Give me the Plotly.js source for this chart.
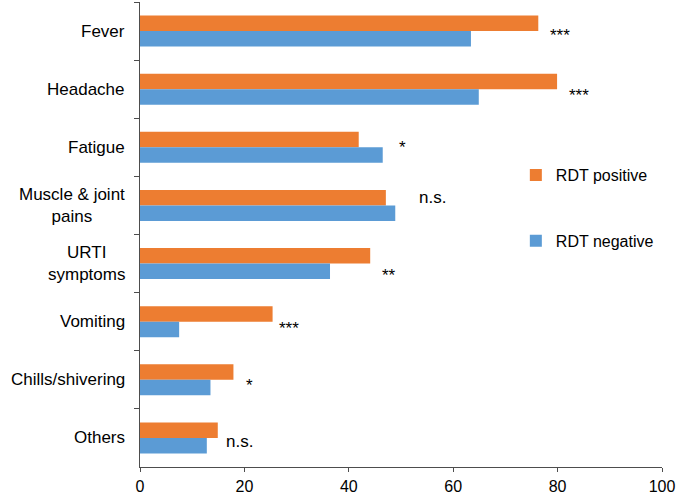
<!DOCTYPE html>
<html>
<head>
<meta charset="utf-8">
<script src="https://cdn.plot.ly/plotly-3.0.1.min.js"></script>
<style>html,body{margin:0;padding:0;background:#fff}#chart{width:685px;height:496px}</style>
</head>
<body>
<div id="chart"></div>
<script>
// Data
const categories = ["Fever", "Headache", "Fatigue", "Muscle & joint<br>pains", "URTI<br>symptoms", "Vomiting", "Chills/shivering", "Others"];
const rdtPositive = [76.3, 79.9, 41.9, 47.1, 44.1, 25.4, 17.9, 14.9];
const rdtNegative = [63.4, 64.9, 46.5, 48.9, 36.4, 7.5, 13.5, 12.8];
const significance = ["***", "***", "*", "n.s.", "**", "***", "*", "n.s."];
const xTicks = [0, 20, 40, 60, 80, 100];

// Placement of significance marks (x in data units, vertical shift in px)
const sigX = [78.2, 81.8, 49.2, 53.0, 46.0, 26.2, 20.0, 16.0];
const sigShift = [-4, -6, 0, 8, -12, -7, -6, -3.5];

const FONT = "Liberation Sans, Arial, sans-serif";

const traces = [
  {type: "bar", orientation: "h", name: "RDT positive", y: categories, x: rdtPositive,
   marker: {color: "#ED7D31"}, legendgroup: "pos"},
  {type: "bar", orientation: "h", name: "RDT negative", y: categories, x: rdtNegative,
   marker: {color: "#5B9BD5"}, legendgroup: "neg"}
];

const annotations = [];
categories.forEach((c, i) => {
  annotations.push({xref: "paper", yref: "y", x: 0, y: c, xshift: -13, xanchor: "right", yanchor: "middle",
    align: "center", text: c, showarrow: false, font: {family: FONT, size: 17, color: "#000"}});
  annotations.push({xref: "x", yref: "y", x: sigX[i], y: c, yshift: sigShift[i], xanchor: "left", yanchor: "middle",
    text: significance[i], showarrow: false, font: {family: FONT, size: 17, color: "#000"}});
});

const layout = {
  width: 685, height: 496,
  margin: {l: 140, r: 23, t: 2, b: 29, pad: 0},
  paper_bgcolor: "#fff", plot_bgcolor: "#fff",
  font: {family: FONT, size: 17, color: "#000"},
  barmode: "group", bargap: 0.465, bargroupgap: 0,
  xaxis: {range: [0, 100], tickvals: xTicks, ticktext: xTicks.map(String), showgrid: false, zeroline: false,
    showline: true, linecolor: "#4d4d4d", linewidth: 1.3, ticks: "outside", ticklen: 4, tickcolor: "#4d4d4d",
    tickfont: {family: FONT, size: 16, color: "#000"}, fixedrange: true},
  yaxis: {autorange: "reversed", type: "category", showgrid: false, zeroline: false, showline: true,
    linecolor: "#4d4d4d", linewidth: 1.3, ticks: "outside", ticklen: 5, tickcolor: "#4d4d4d",
    tickson: "boundaries", showticklabels: false, fixedrange: true},
  showlegend: true,
  legend: {x: 0.72, y: 0.557, xanchor: "left", yanchor: "middle", traceorder: "grouped",
    tracegroupgap: 42, font: {family: FONT, size: 16, color: "#000"}, bgcolor: "rgba(0,0,0,0)"},
  annotations: annotations
};

Plotly.newPlot("chart", traces, layout, {displayModeBar: false, staticPlot: true});
</script>
</body>
</html>
